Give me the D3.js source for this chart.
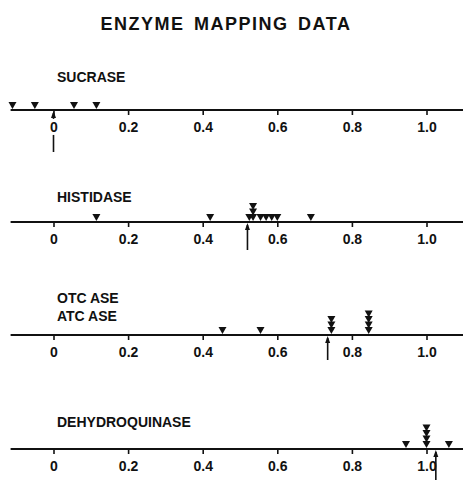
<!DOCTYPE html>
<html>
<head>
<meta charset="utf-8">
<script src="https://cdn.jsdelivr.net/npm/d3@7"></script>
<style>
  body { margin: 0; background: #fff; }
  text { font-family: "Liberation Sans", "DejaVu Sans", sans-serif; font-weight: bold; fill: #111; }
</style>
</head>
<body>
<div id="chart"></div>
<script>
const width = 463;
const height = 480;

// positions of mapped enzyme markers (duplicates stack up)
const panels = ["SUCRASE", "HISTIDASE", "OTC ASE\nATC ASE", "DEHYDROQUINASE"];
const sucrase = [-0.11, -0.05, 0.055, 0.115];
const histidase = [0.115, 0.42, 0.525, 0.535, 0.535, 0.535, 0.555, 0.57, 0.585, 0.6, 0.69];
const otcase = [0.453, 0.555, 0.745, 0.745, 0.745, 0.845, 0.845, 0.845, 0.845];
const dehydroquinase = [0.945, 1.0, 1.0, 1.0, 1.0, 1.06];
const arrows = [0, 0.52, 0.735, 1.025];
const tickValues = [0, 0.2, 0.4, 0.6, 0.8, 1.0];

const series = [sucrase, histidase, otcase, dehydroquinase];
const axisY = [110, 222, 335, 449];
const labelY = [77, 197, 298, 422];
const arrowEnd = [152, 250, 360, 482];

const svg = d3.select("#chart")
  .append("svg")
  .attr("width", width)
  .attr("height", height);

const x = d3.scaleLinear().domain([0, 1]).range([53.5, 426.5]);

svg.append("text")
  .attr("x", 226)
  .attr("y", 30)
  .attr("text-anchor", "middle")
  .attr("font-size", 18)
  .attr("letter-spacing", 1.5)
  .attr("word-spacing", 3)
  .text("ENZYME MAPPING DATA");

const tri = 8; // triangle width

series.forEach((vals, i) => {
  const g = svg.append("g");
  const y0 = axisY[i];

  // label
  panels[i].split("\n").forEach((line, j) => {
    g.append("text")
      .attr("x", 57)
      .attr("y", labelY[i] + j * 18 + 5)
      .attr("font-size", 14)
      .text(line);
  });

  // arrow (under the axis, pointing up)
  const ax = x(arrows[i]);
  g.append("line")
    .attr("x1", ax).attr("x2", ax)
    .attr("y1", y0 + 3).attr("y2", arrowEnd[i])
    .attr("stroke", "#111")
    .attr("stroke-width", 1.6);
  g.append("path")
    .attr("d", `M${ax},${y0 + 1}l-2.5,7h5z`)
    .attr("fill", "#111");

  // axis
  const axis = d3.axisBottom(x)
    .tickValues(tickValues)
    .tickSize(5)
    .tickPadding(7)
    .tickFormat(d => d === 0 ? "0" : d3.format(".1f")(d));
  const ag = g.append("g")
    .attr("transform", `translate(0,${y0})`)
    .call(axis);
  ag.select(".domain").remove();
  ag.selectAll(".tick line").attr("stroke", "#111").attr("stroke-width", 1.6);
  ag.selectAll(".tick text")
    .attr("font-size", 14)
    .attr("font-family", "Liberation Sans, sans-serif")
    .attr("font-weight", "bold")
    .attr("fill", "#111");
  // the label under an arrow sits on white to break the arrow line
  ag.selectAll(".tick").filter(d => d === arrows[i]).each(function() {
    const t = d3.select(this).select("text");
    const bb = t.node().getBBox();
    d3.select(this).insert("rect", "text")
      .attr("x", bb.x - 1).attr("y", bb.y)
      .attr("width", bb.width + 2).attr("height", bb.height)
      .attr("fill", "#fff");
  });

  g.append("line")
    .attr("x1", x(-0.115)).attr("x2", width)
    .attr("y1", y0).attr("y2", y0)
    .attr("stroke", "#111")
    .attr("stroke-width", 2);

  // markers, stacked when values repeat
  const seen = {};
  const pts = vals.map(v => {
    const k = v.toFixed(3);
    seen[k] = (seen[k] || 0) + 1;
    return { v, level: seen[k] - 1 };
  });
  g.selectAll(".mark")
    .data(pts)
    .enter()
    .append("path")
    .attr("class", "mark")
    .attr("d", d => {
      const cx = x(d.v);
      const yb = y0 - 1 - d.level * 5.5;
      return `M${cx - tri / 2},${yb - 7}h${tri}l${-tri / 2},7z`;
    })
    .attr("fill", "#111");
});
</script>
</body>
</html>
